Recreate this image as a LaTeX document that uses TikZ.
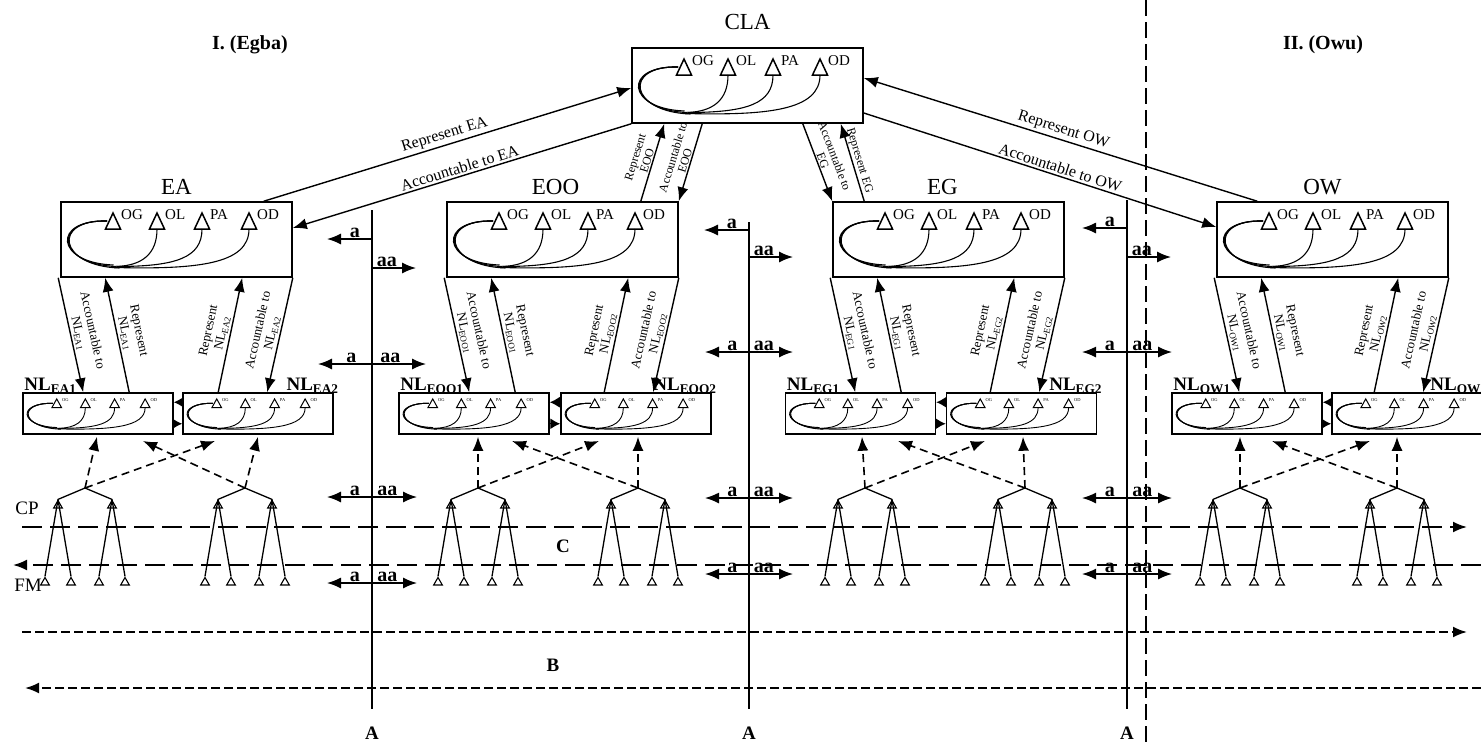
\documentclass[tikz,border=0pt]{standalone}
\usepackage{fontspec}
\setmainfont{Liberation Serif}
\usetikzlibrary{arrows.meta,positioning,calc,shapes.geometric}

\tikzset{
  bigbox/.style={draw, line width=1.6pt, minimum width=231pt, minimum height=75pt, inner sep=0pt},
  nlbox/.style={draw, line width=1.5pt, minimum width=150pt, minimum height=41pt, inner sep=0pt},
  fwd/.style={-{Latex[length=14pt,width=11pt]}},
  bwd/.style={{Latex[length=14pt,width=11pt]}-},
  nudge/.style={-{Latex[length=10pt,width=11pt]}},
  link/.style={line width=1.4pt},
  linklab/.style={font=\fontsize{13}{14}\selectfont, inner sep=2pt, align=center},
  tightlab/.style={font=\fontsize{12}{12.5}\selectfont, inner sep=1pt, align=center},
  biglink/.style={font=\fontsize{16}{18}\selectfont, inner sep=2pt},
  titlelab/.style={font=\fontsize{23}{25}\selectfont},
  nllab/.style={font=\fontsize{19}{20}\selectfont\bfseries, inner sep=0pt},
  boldlab/.style={font=\fontsize{19}{20}\selectfont\bfseries},
  headlab/.style={font=\fontsize{20}{22}\selectfont\bfseries},
  aalab/.style={font=\fontsize{20}{20}\selectfont\bfseries, inner sep=1pt},
  plainlab/.style={font=\fontsize{19}{20}\selectfont},
  icontri/.style={line width=1.5pt},
  iconline/.style={line width=1.1pt},
  iconlab/.style={font=\fontsize{15}{15}\selectfont, anchor=west, inner sep=0pt},
  bigicon/.style={},
  smallicon/.style={xscale=0.65, yscale=0.55,
    icontri/.append style={line width=1pt},
    iconline/.append style={line width=0.9pt},
    iconlab/.append style={font=\fontsize{4.5}{5}\selectfont}},
  tri/.style={regular polygon, regular polygon sides=3, draw, line width=1.1pt, minimum size=10pt, inner sep=0pt},
  treeline/.style={line width=1.3pt},
  treedash/.style={line width=1.6pt, dash pattern=on 8pt off 5pt},
  cline/.style={line width=2pt, dash pattern=on 20pt off 8pt},
  bline/.style={line width=2pt, dash pattern=on 9pt off 4pt},
  vline/.style={line width=1.1pt},
  divline/.style={line width=1.2pt, dash pattern=on 16pt off 6pt},
}

% triangulos OG/OL/PA/OD con sus lazos, dentro de una caja
\newcommand{\grpicon}[2]{%
  \begin{scope}[shift={(#1.center)}, #2]
    \foreach \tx/\tl in {-63.5/OG, -19.5/OL, 25.5/PA, 72.5/OD} {
      \draw[icontri] ({\tx-7.5},-10.5) -- (\tx,-26.5) -- ({\tx+7.5},-10.5) -- cycle;
      \node[iconlab] (#1\tl) at ({\tx+8},-25) {\tl};
    }
    \foreach \dy in {-1.5,0,1.5}
      \draw[iconline] (-69.5,-18.5) .. controls (-125,-20) and ({-120+\dy},{25+\dy}) .. ({-60+2*\dy},{27+\dy});
    \draw[iconline] (-19.5,-10.5) .. controls (-19.5,15) and (-35,26) .. (-60,27);
    \draw[iconline] (25.5,-10.5) .. controls (25.5,18) and (0,27) .. (-60,27);
    \draw[iconline] (72.5,-10.5) .. controls (72.5,25) and (20,30) .. (-62,28);
  \end{scope}}

\begin{document}
\begin{tikzpicture}[x=1pt, y=-1pt]
  \useasboundingbox (0,0) rectangle (1481,747);

  % CLA
  \node[bigbox] (CLA) at (747.5,85.5) {};
  \node[titlelab, above=14pt of CLA] (CLA-title) {CLA};
  \grpicon{CLA}{bigicon}

  % Cabeceras
  \node[headlab] (egba) at (250,45) {I. (Egba)};
  \node[headlab] (owu) at (1323,45) {II. (Owu)};

  % Grupos con sus NL
  \foreach \g/\cx/\ax/\bx/\dl in {EA/176.5/98/258/0pt, EOO/562.5/474/636/-7pt, EG/948.5/860.5/1021.5/-6pt, OW/1332.5/1247/1407/-10pt} {
    \node[bigbox] (\g) at (\cx,239.5) {};
    \node[titlelab, above=3pt of \g, xshift=\dl] (\g-title) {\g};
    \grpicon{\g}{bigicon}
    \node[nlbox] (\g1) at (\ax,413.5) {};
    \node[nlbox] (\g2) at (\bx,413.5) {};
    \grpicon{\g1}{smallicon}
    \grpicon{\g2}{smallicon}
    \node[nllab, anchor=base west] (\g1-lab) at ([xshift=2pt,yshift=2pt]\g1.north west) {NL\textsubscript{\g1}};
    \node[nllab, anchor=base east] (\g2-lab) at ([xshift=5pt,yshift=2pt]\g2.north east) {NL\textsubscript{\g2}};

    \draw[fwd, link] ($(\g.south west)+(-2,0)$) -- ($(\g1.north -| \g.south west)+(23,0)$)
      node[midway, sloped, above, linklab] (acc\g1) {Accountable to\\NL\textsubscript{\g1}};
    \draw[bwd, link] ($(\g.south west)+(45,0)$) -- ($(\g1.north -| \g.south west)+(69,0)$)
      node[midway, sloped, above, linklab] (rep\g1) {Represent\\NL\textsubscript{\g1}};
    \draw[fwd, link] ($(\g2.north -| \g.south west)+(158,0)$) -- ($(\g.south west)+(182,0)$)
      node[midway, sloped, above, linklab] (rep\g2) {Represent\\NL\textsubscript{\g2}};
    \draw[fwd, link] (\g.south east) -- ($(\g2.north -| \g.south west)+(207,0)$)
      node[midway, sloped, above, linklab] (acc\g2) {Accountable to\\NL\textsubscript{\g2}};

    \draw[nudge, link] ([yshift=-10pt]\g2.north west) -- ([yshift=-10pt]\g1.north east);
    \draw[nudge, link] ([yshift=11pt]\g1.south east) -- ([yshift=11pt]\g2.south west);
  }

  % Enlaces con CLA
  \draw[fwd, link] ($(EA.north east)+(-29,0)$) -- ($(CLA.west)+(0,2.5)$)
    node[midway, sloped, above, biglink] (repEA) {Represent EA};
  \draw[fwd, link] (CLA.south west) -- ($(EA.east)+(0,-11.5)$)
    node[midway, sloped, above, biglink] (accEA) {Accountable to EA};
  \draw[fwd, link] ($(EOO.north east)+(-38,0)$) -- ($(CLA.south west)+(33,0)$)
    node[midway, sloped, above, tightlab] (repEOO) {Represent\\EOO};
  \draw[fwd, link] ($(CLA.south west)+(71,0)$) -- (EOO.north east)
    node[midway, sloped, above, tightlab] (accEOO) {Accountable to\\EOO};
  \draw[fwd, link] ($(CLA.south east)+(-61,0)$) -- (EG.north west)
    node[midway, sloped, above, tightlab] (accEG) {Accountable to\\EG};
  \draw[bwd, link] ($(CLA.south east)+(-23,0)$) -- ($(EG.north west)+(32,0)$)
    node[midway, sloped, above, tightlab] (repEG) {Represent EG};
  \draw[fwd, link] ($(OW.north west)+(41,0)$) -- ($(CLA.east)+(0,-7.5)$)
    node[midway, sloped, above, biglink] (repOW) {Represent OW};
  \draw[fwd, link] ($(CLA.east)+(0,27.5)$) -- ($(OW.west)+(0,-12.5)$)
    node[pos=0.55, sloped, above, biglink] (accOW) {Accountable to OW};

  % Arboles CP -> FM
  \foreach \n/\x/\cx/\vx in {EA1/85/130/12, EA2/245/-102/13, EOO1/478/121/0, EOO2/638/-126/0, EG1/865/120/-3, EG2/1025/-127/-2, OW1/1240/130/0, OW2/1397/-125/0} {
    \coordinate (top\n) at (\x,488);
    \foreach \sx/\cn in {-27/a, 27/b} {
      \node[tri] (\n\cn) at ({\x+\sx},505.5) {};
      \draw[treeline] (top\n) -- (\n\cn.corner 1);
      \foreach \rx/\dn in {-13/l, 13/r} {
        \node[tri] (\n\cn\dn) at ({\x+\sx+\rx},582.5) {};
        \draw[treeline] (\n\cn.corner 1) -- (\n\cn\dn.corner 1);
      }
    }
    \coordinate (cross\n) at ($(top\n)+(\cx,-47)$);
    \draw[treedash, fwd] (top\n) -- ($(top\n |- \n.south)+(\vx,2)$);
    \draw[treedash, fwd] (top\n) -- (cross\n);
  }

  % Lineas C y B
  \coordinate (Cw) at (22,527);  \coordinate (Ce) at (1467,527);
  \coordinate (Cw2) at (13,565); \coordinate (Ce2) at (1481,565);
  \draw[cline, fwd] (Cw) -- (Ce);
  \draw[cline, fwd] (Ce2) -- (Cw2);
  \node[boldlab] (Clab) at (563,546) {C};
  \node[plainlab] (CP) at (27,508) {CP};
  \node[plainlab] (FM) at (28,585) {FM};

  \coordinate (Bw) at (22,632);  \coordinate (Be) at (1467,632);
  \coordinate (Bw2) at (25,688); \coordinate (Be2) at (1481,688);
  \draw[bline, fwd] (Bw) -- (Be);
  \draw[bline, fwd] (Be2) -- (Bw2);
  \node[boldlab] (Blab) at (553,665) {B};

  % Divisoria I / II
  \coordinate (Dn) at (1146,0); \coordinate (Ds) at (1146,747);
  \draw[divline] (Dn) -- (Ds);

  % Lineas A con flechas a / aa
  \foreach \vi/\x/\vt in {1/372/210, 2/749/222, 3/1127/200} {
    \coordinate (V\vi) at (\x,\vt);
    \coordinate (W\vi) at (\x,709);
    \draw[vline] (V\vi) -- (W\vi);
    \node[boldlab] (A\vi) at (\x,733) {A};
  }
  \foreach \vi/\ya/\yb in {1/239/268, 2/230/257, 3/228/257} {
    \coordinate (ma\vi) at (V\vi |- 0,\ya);
    \coordinate (mb\vi) at (V\vi |- 0,\yb);
    \coordinate (mal\vi) at ($(ma\vi)+(-45,0)$);
    \coordinate (mbr\vi) at ($(mb\vi)+(44,0)$);
    \draw[fwd, link] (ma\vi) -- (mal\vi) node[pos=0.38, above, aalab] (a\vi) {a};
    \draw[fwd, link] (mb\vi) -- (mbr\vi) node[pos=0.34, above, aalab] (aa\vi) {aa};
  }
  \foreach \vi/\y/\len [count=\rownum] in {1/364/54, 1/497/45, 1/583/45, 2/352/44, 2/498/44, 2/574/44, 3/352/45, 3/498/45, 3/574/45} {
    \coordinate (m\rownum) at (V\vi |- 0,\y);
    \coordinate (ml\rownum) at ($(m\rownum)+(-\len,0)$);
    \coordinate (mr\rownum) at ($(m\rownum)+(\len,0)$);
    \draw[fwd, link] (m\rownum) -- (ml\rownum) node[pos=0.38, above, aalab] (ra\rownum) {a};
    \draw[fwd, link] (m\rownum) -- (mr\rownum) node[pos=0.34, above, aalab] (raa\rownum) {aa};
  }
\end{tikzpicture}
\end{document}
